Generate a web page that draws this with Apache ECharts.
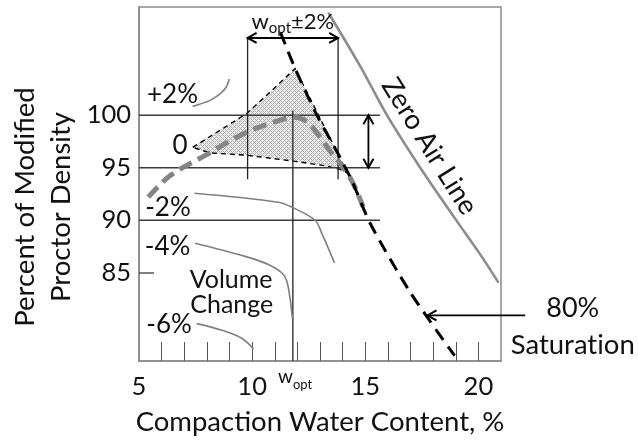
<!DOCTYPE html>
<html>
<head>
<meta charset="utf-8">
<script src="https://cdn.jsdelivr.net/npm/echarts@6/dist/echarts.min.js"></script>
<style>
  html, body { margin: 0; padding: 0; background: #fff; }
  #chart { width: 638px; height: 441px; }
</style>
</head>
<body>
<div id="chart"></div>
<script>
// ---- axes ----
const xRange = [5, 21];
const yRange = [76.6, 110.3];
const xTickLabels = [5, 10, 15, 20];
const xMinorTicks = [6, 7, 8, 9, 10, 11, 12, 13, 14, 15, 16, 17, 18, 19, 20];
const yTickLabels = [85, 90, 95, 100];
const yMinorTicks = [85];

// ---- curves: [water content %, % of modified Proctor density] ----
const zeroAirLine = [[13.37, 109.75], [14.77, 104.69], [15.96, 100.0], [17.43, 95.0], [18.98, 90.13], [20.08, 86.75], [20.89, 84.06]];
const saturation80 = [[11.25, 107.9], [11.9, 104.44], [12.86, 100.0], [13.74, 96.57], [14.41, 93.76], [15.22, 89.69], [16.99, 83.13], [18.95, 77.1]];
const compactionCurve = [[5.41, 92.19], [6.37, 94.23], [7.99, 96.25], [9.76, 98.38], [11.24, 99.53], [11.85, 99.8], [12.42, 99.38], [12.93, 98.13], [13.45, 96.57], [14.04, 95.0], [14.48, 93.44], [14.9, 91.3]];
const acceptZone = [[7.375, 96.94], [9.76, 100.16], [10.79, 102.19], [11.9, 104.44], [12.86, 100.32], [13.59, 97.19], [14.19, 94.53], [13.89, 94.84], [13.3, 95.16], [11.82, 95.63], [9.76, 96.19], [8.14, 96.41]];

// volume change contours
const volPlus2 = [[7.375, 100.84], [8.14, 101.41], [8.58, 102.03], [8.85, 102.66], [8.99, 103.44]];
const volMinus2 = [[7.45, 92.57], [11.16, 91.72], [11.75, 91.25], [12.78, 90.0], [13.08, 88.75], [13.64, 85.94]];
const volMinus4 = [[7.48, 87.81], [9.69, 86.56], [10.72, 85.79], [11.31, 85.0], [11.53, 84.22], [11.68, 82.51], [11.78, 80.63]];
const volMinus6 = [[7.55, 80.16], [8.66, 79.53], [9.54, 78.76], [10.06, 77.75]];

// ---- reference lines ----
const densityLevels = [90, 95, 100];
const densityLineEnd = 15.65;
const wOpt = 11.8;
const wBand = 2;
const bandBox = [93.9, 107.35];
const wOptLineTop = 100.45;

// arrows: [x1, y1, x2, y2, double-headed]
const arrows = [
  [wOpt - wBand, 107.35, wOpt + wBand, 107.35, 1],
  [15.14, 100, 15.14, 95, 1],
  [22.07, 80.94, 17.75, 80.94, 0]
];

// text notes placed in data space: [text, x, y, fontSize, rotateDeg]
// (\u200C keeps the "ti" pair from fusing into a ligature)
const notes = [
  ['+2%', 6.48, 101.94, 26, 0],
  ['0', 6.81, 97.11, 26, 0],
  ['-2%', 6.28, 91.16, 26, 0],
  ['-4%', 6.26, 87.5, 26, 0],
  ['-6%', 6.33, 80.1, 26, 0],
  ['Volume', 9.07, 84.32, 25, 0],
  ['Change', 9.1, 81.9, 25, 0],
  ['80%', 24.17, 81.6, 27, 0],
  ['Saturat\u200Cion', 24.17, 78.13, 27.5, 0],
  ['Zero Air Line', 17.84, 97.04, 27.5, -58]
];

const FONT = 'Lato';

// light cross-hatch fill for the acceptance zone
function hatch() {
  const c = document.createElement('canvas');
  c.width = 4; c.height = 4;
  const g = c.getContext('2d');
  g.fillStyle = '#ececec';
  g.fillRect(0, 0, 4, 4);
  g.fillStyle = '#b0b0b0';
  for (let x = 0; x < 4; x++) {
    for (let y = 0; y < 4; y++) {
      if ((x + y) % 4 === 0 || (x - y + 4) % 4 === 0) g.fillRect(x, y, 1, 1);
    }
  }
  return { image: c, repeat: 'repeat' };
}
const hatchFill = hatch();

function plainLine(data, color, width, type, smooth, z) {
  return {
    type: 'line', data: data, smooth: smooth || false, symbol: 'none', silent: true,
    clip: false, z: z || 2,
    lineStyle: { color: color, width: width, type: type || 'solid' }
  };
}

const series = [];

// acceptance zone polygon
series.push({
  type: 'custom', silent: true, z: 1,
  data: [0],
  renderItem: function (params, api) {
    const pts = acceptZone.map(p => api.coord(p));
    return {
      type: 'polygon', shape: { points: pts },
      style: { fill: hatchFill, stroke: '#000', lineWidth: 1.4, lineDash: [5, 4] }
    };
  }
});

// density levels
densityLevels.forEach(level => {
  series.push(plainLine([[xRange[0], level], [densityLineEnd, level]], '#3c3c3c', 1.5, 'solid', false, 2));
});
// w_opt band and w_opt line
series.push(plainLine([[wOpt - wBand, bandBox[0]], [wOpt - wBand, bandBox[1]]], '#222', 1.3, 'solid', false, 2));
series.push(plainLine([[wOpt + wBand, bandBox[0]], [wOpt + wBand, bandBox[1]]], '#222', 1.3, 'solid', false, 2));
series.push(plainLine([[wOpt, wOptLineTop], [wOpt, yRange[0]]], '#222', 1.3, 'solid', false, 2));

// volume change contours
[volPlus2, volMinus2, volMinus4, volMinus6].forEach(d => {
  series.push(plainLine(d, '#7f7f7f', 1.6, 'solid', 0.35, 3));
});

// zero air voids line
series.push(plainLine(zeroAirLine, '#8c8c8c', 2.6, 'solid', 0.3, 3));
// compaction curve
series.push(plainLine(compactionCurve, '#858585', 5, [14, 7], 0.35, 4));
// 80% saturation line
series.push(plainLine(saturation80, '#000', 3, [13, 8], 0.25, 5));

// arrows
function head(tip, ux, uy) {
  const L = 9, W = 5;
  return {
    type: 'polyline',
    shape: { points: [[tip[0] - ux * L - uy * W, tip[1] - uy * L + ux * W], tip, [tip[0] - ux * L + uy * W, tip[1] - uy * L - ux * W]] },
    style: { stroke: '#000', lineWidth: 2, fill: null }
  };
}
series.push({
  type: 'custom', silent: true, z: 6,
  data: arrows,
  renderItem: function (params, api) {
    const a = api.coord([api.value(0), api.value(1)]);
    const b = api.coord([api.value(2), api.value(3)]);
    const dx = b[0] - a[0], dy = b[1] - a[1];
    const len = Math.hypot(dx, dy);
    const ux = dx / len, uy = dy / len;
    const children = [
      { type: 'line', shape: { x1: a[0], y1: a[1], x2: b[0], y2: b[1] }, style: { stroke: '#000', lineWidth: 1.8 } },
      head(b, ux, uy)
    ];
    if (api.value(4) === 1) children.push(head(a, -ux, -uy));
    return { type: 'group', children: children };
  }
});

const chart = echarts.init(document.getElementById('chart'));
chart.setOption({
  animation: false,
  textStyle: { fontFamily: FONT },
  grid: { left: 139, right: 137, top: 7, bottom: 75, show: true, borderColor: '#8a8a8a', borderWidth: 1.5, backgroundColor: 'transparent' },
  xAxis: {
    type: 'value', min: xRange[0], max: xRange[1],
    axisLine: { lineStyle: { color: '#8a8a8a', width: 1.5 } },
    axisTick: { show: true, inside: true, length: 19, customValues: xMinorTicks, lineStyle: { color: '#555', width: 1 } },
    axisLabel: { customValues: xTickLabels, fontSize: 25.5, color: '#111', margin: 13, fontFamily: FONT },
    splitLine: { show: false },
    name: 'Compaction Water Content, %', nameLocation: 'middle', nameGap: 47,
    nameTextStyle: { fontSize: 27.5, color: '#111', fontFamily: FONT }
  },
  yAxis: {
    type: 'value', min: yRange[0], max: yRange[1],
    axisLine: { lineStyle: { color: '#8a8a8a', width: 1.5 } },
    axisTick: { show: true, inside: true, length: 15, customValues: yMinorTicks, lineStyle: { color: '#555', width: 1.5 } },
    axisLabel: { customValues: yTickLabels, fontSize: 25.5, color: '#111', margin: 8, fontFamily: FONT },
    splitLine: { show: false }
  },
  series: series
});

// annotations positioned through the grid's data-to-pixel mapping
const toPx = p => chart.convertToPixel({ gridIndex: 0 }, p);
const graphics = notes.map(n => {
  const p = toPx([n[1], n[2]]);
  return {
    type: 'text', x: p[0], y: p[1], rotation: n[4] * Math.PI / 180, z: 10,
    style: { text: n[0], fontSize: n[3], fontFamily: FONT, fill: '#111', align: 'center', verticalAlign: 'middle' }
  };
});

const bandLabelPos = toPx([wOpt, 108.97]);
graphics.push({
  type: 'text', x: bandLabelPos[0], y: bandLabelPos[1], z: 10,
  style: {
    text: '{m|w}{s|opt}{m|\u00b12%}', align: 'center', verticalAlign: 'middle',
    rich: {
      m: { fontSize: 22, fontFamily: FONT, fill: '#111', lineHeight: 24, verticalAlign: 'bottom' },
      s: { fontSize: 15, fontFamily: FONT, fill: '#111', lineHeight: 15, verticalAlign: 'bottom', padding: [0, 0, -3, 0] }
    }
  }
});
const wOptTickPos = toPx([wOpt + 0.1, 75.13]);
graphics.push({
  type: 'text', x: wOptTickPos[0], y: wOptTickPos[1], z: 10,
  style: {
    text: '{m|w}{s|opt}', align: 'center', verticalAlign: 'middle',
    rich: {
      m: { fontSize: 19, fontFamily: FONT, fill: '#111', lineHeight: 20, verticalAlign: 'bottom' },
      s: { fontSize: 13, fontFamily: FONT, fill: '#111', lineHeight: 13, verticalAlign: 'bottom', padding: [0, 0, -5, 0] }
    }
  }
});

// y-axis title, two lines, rotated
graphics.push({
  type: 'text', x: 43, y: 207, rotation: Math.PI / 2, z: 10,
  style: { text: 'Percent of Modified\nProctor Density', fontSize: 27.5, lineHeight: 36, fontFamily: FONT, fill: '#111', align: 'center', verticalAlign: 'middle' }
});

chart.setOption({ graphic: graphics });
</script>
</body>
</html>
